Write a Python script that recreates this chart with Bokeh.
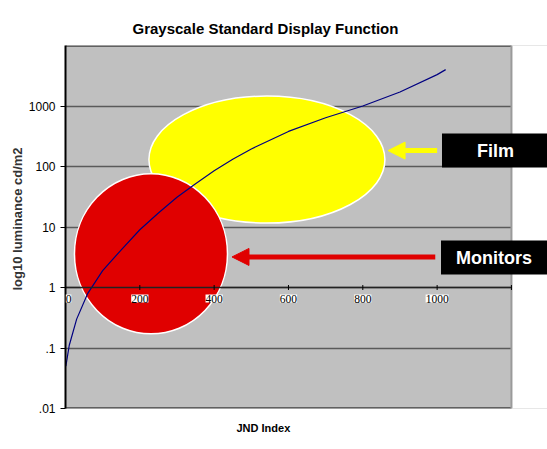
from math import pi
from bokeh.plotting import figure
from bokeh.models import (Label, LabelSet, Arrow, NormalHead, ColumnDataSource, Title,
                          FixedTicker, CustomJSTickFormatter, BoxAnnotation, Range1d)
from bokeh.embed import file_html
from bokeh.resources import INLINE

# ---- data ----
jnd_index = [1, 10, 30, 60, 100, 150, 200, 250, 300, 350, 400, 450, 500, 600, 700, 800, 900, 1000, 1023]
luminance = [0.05, 0.11, 0.3, 0.8, 1.9, 4.2, 9.0, 17, 31, 52, 85, 132, 195, 380, 640, 1000, 1700, 3300, 3990]

x_ticks = [0, 200, 400, 600, 800, 1000, 1200]
x_tick_labels = ["0", "200", "400", "600", "800", "1000", ""]
y_ticks = [0.01, 0.1, 1, 10, 100, 1000]
x_max = 1200
y_min, y_max = 0.01, 10000

# regions (centre in data units, size in screen pixels)
region_x = [542, 230]
region_y = [130, 3.6]
region_w = [236, 153]
region_h = [127, 160]
region_colors = ["#FFFF00", "#E00000"]

# arrows pointing at the regions
arrow_x_start = [1000, 995]
arrow_x_end = [868, 448]
arrow_y = [183, 3.2]

FONT = "Liberation Sans"

p = figure(width=547, height=449, x_range=Range1d(0, 1297), y_range=Range1d(y_min, y_max),
           y_axis_type="log", x_axis_location=None,
           output_backend="svg", toolbar_location=None,
           min_border_left=65, min_border_right=0, min_border_top=45, min_border_bottom=41)

p.background_fill_color = "#C0C0C0"
p.border_fill_color = "white"
p.outline_line_color = None

p.xgrid.visible = False
p.ygrid.ticker = FixedTicker(ticks=y_ticks)
p.ygrid.grid_line_color = "#5a5a5a"
p.ygrid.grid_line_width = 1.5

ax = p.yaxis[0]
ax.ticker = FixedTicker(ticks=y_ticks, minor_ticks=[])
ax.formatter = CustomJSTickFormatter(code="return tick < 1 ? String(tick).replace(/^0/, '') : String(tick)")
ax.axis_line_color = "black"
ax.axis_line_width = 2
ax.major_tick_line_color = "black"
ax.major_tick_out = 5
ax.major_tick_in = 0
ax.minor_tick_line_color = None
ax.major_label_standoff = 5
ax.major_label_text_font = FONT
ax.major_label_text_font_size = "12px"
ax.major_label_text_color = "black"

# white area right of the plot area
p.add_layout(BoxAnnotation(left=x_max, fill_color="white", fill_alpha=1, line_color=None,
                           level="underlay"))

# plot-area border
p.segment(x0=[0, 0], y0=[y_max, y_min], x1=[x_max, x_max], y1=[y_max, y_min],
          line_color="#606060", line_width=3)
p.segment(x0=[x_max], y0=[y_min], x1=[x_max], y1=[y_max], line_color="#9a9a9a", line_width=2)

# regions
p.ellipse(x=region_x, y=region_y, width=region_w, height=region_h,
          width_units="screen", height_units="screen",
          fill_color=region_colors, line_color="white", line_width=1.5)

# GSDF curve
p.line(jnd_index, luminance, line_color="#000080", line_width=1.2)

# x axis crossing at 1
p.segment(x0=[0], y0=[1], x1=[x_max], y1=[1], line_color="#222222", line_width=1.5)
p.scatter(x=x_ticks, y=[1] * len(x_ticks), marker="dash", angle=pi / 2, size=5,
          line_color="black", line_width=1)
xsrc = ColumnDataSource(dict(x=x_ticks, y=[1] * len(x_ticks), t=x_tick_labels,
                             dx=[3, 0, 0, 0, 0, 0, 0]))
p.add_layout(LabelSet(x="x", y="y", text="t", source=xsrc, y_offset=-11, x_offset="dx",
                      text_align="center", text_baseline="middle",
                      text_font=FONT, text_font_size="11.5px", text_color="black",
                      background_fill_color="white"))

# arrows
for xs, xe, y, c in zip(arrow_x_start, arrow_x_end, arrow_y, region_colors):
    p.add_layout(Arrow(end=NormalHead(size=17, fill_color=c, line_color=c),
                       x_start=xs, y_start=y, x_end=xe, y_end=y,
                       line_color=c, line_width=5))

# black callout boxes
p.add_layout(Label(x=430, y=258, x_units="screen", y_units="screen", text="Film",
                   text_align="center", text_baseline="middle",
                   text_font=FONT, text_font_style="bold", text_font_size="18px",
                   text_color="white", background_fill_color="black",
                   padding=dict(left=35, right=35, top=7, bottom=7)))
p.add_layout(Label(x=429, y=151, x_units="screen", y_units="screen", text="Monitors",
                   text_align="center", text_baseline="middle",
                   text_font=FONT, text_font_style="bold", text_font_size="18px",
                   text_color="white", background_fill_color="black",
                   padding=dict(left=15, right=16, top=7, bottom=7)))

# titles
p.add_layout(Title(text="Grayscale Standard Display Function", align="left", offset=67,
                   text_font=FONT, text_font_style="bold", text_font_size="15px",
                   text_color="black", standoff=17), "above")
p.add_layout(Title(text="JND Index", align="left", offset=171,
                   text_font=FONT, text_font_style="bold", text_font_size="11px",
                   text_color="black", standoff=23), "below")
p.add_layout(Title(text="log10 luminance cd/m2", align="left", offset=118,
                   text_font=FONT, text_font_style="bold", text_font_size="13px",
                   text_color="#333333", standoff=2), "left")

open("out.html", "w").write(file_html(p, INLINE))
